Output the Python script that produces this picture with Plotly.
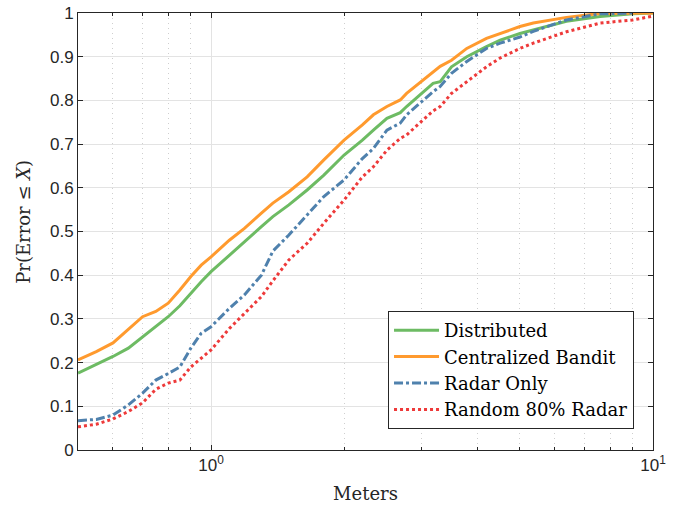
import plotly.graph_objects as go

meters = [0.5, 0.55, 0.6, 0.65, 0.7, 0.75, 0.8, 0.85, 0.9, 0.95, 1.0, 1.1, 1.19, 1.3, 1.38,
          1.5, 1.65, 1.8, 2.0, 2.2, 2.33, 2.5, 2.68, 2.77, 3.18, 3.3, 3.5, 3.79, 4.2, 4.51,
          5.0, 5.36, 6.37, 7.59, 9.0, 10.0]

distributed = [0.176, 0.195, 0.214, 0.233, 0.259, 0.282, 0.305, 0.330, 0.359, 0.385, 0.408,
               0.446, 0.477, 0.511, 0.534, 0.561, 0.595, 0.629, 0.675, 0.709, 0.732, 0.759,
               0.772, 0.786, 0.839, 0.843, 0.877, 0.900, 0.923, 0.938, 0.953, 0.961, 0.981,
               0.992, 0.998, 1.0]

centralized = [0.206, 0.225, 0.245, 0.275, 0.305, 0.317, 0.336, 0.366, 0.397, 0.423, 0.442,
               0.480, 0.507, 0.542, 0.565, 0.591, 0.625, 0.664, 0.709, 0.744, 0.767, 0.786,
               0.801, 0.816, 0.866, 0.878, 0.892, 0.919, 0.942, 0.953, 0.969, 0.977, 0.990,
               0.999, 1.0, 1.0]

radar_only = [0.067, 0.070, 0.080, 0.103, 0.130, 0.160, 0.175, 0.190, 0.233, 0.267, 0.282,
              0.324, 0.355, 0.400, 0.455, 0.492, 0.538, 0.580, 0.618, 0.667, 0.690, 0.732,
              0.748, 0.767, 0.820, 0.832, 0.862, 0.889, 0.919, 0.931, 0.945, 0.958, 0.984,
              0.998, 1.0, None]

random80 = [0.053, 0.059, 0.071, 0.088, 0.108, 0.139, 0.153, 0.160, 0.190, 0.210, 0.229,
            0.278, 0.313, 0.351, 0.387, 0.435, 0.473, 0.519, 0.572, 0.625, 0.648, 0.686,
            0.713, 0.721, 0.776, 0.786, 0.816, 0.843, 0.877, 0.897, 0.919, 0.931, 0.957,
            0.977, 0.984, 0.993]

series_names = ["Distributed", "Centralized Bandit", "Radar Only", "Random 80% Radar"]
series_values = [distributed, centralized, radar_only, random80]
colors = ["#6dbb63", "#ff9a2e", "#4f81ad", "#ee3a3a"]
dashes = ["solid", "solid", "dashdot", "dot"]

y_ticks = [0, 0.1, 0.2, 0.3, 0.4, 0.5, 0.6, 0.7, 0.8, 0.9, 1]
y_ticktext = ["0", "0.1", "0.2", "0.3", "0.4", "0.5", "0.6", "0.7", "0.8", "0.9", "1"]
x_major = [1, 10]
x_major_text = ["10<sup>0</sup>", "10<sup>1</sup>"]
x_minor = [0.5, 0.6, 0.7, 0.8, 0.9, 2, 3, 4, 5, 6, 7, 8, 9]

SERIF = "DejaVu Serif"
SANS = "Liberation Sans"

fig = go.Figure()
for name, vals, c, d in zip(series_names, series_values, colors, dashes):
    fig.add_trace(go.Scatter(x=meters, y=vals, mode="lines", name=name,
                             line=dict(color=c, width=3, dash=d, shape="linear")))

axis_common = dict(showline=True, linecolor="#262626", linewidth=1, mirror="ticks",
                   ticks="inside", ticklen=5, tickcolor="#262626",
                   tickfont=dict(family=SANS, size=17, color="#262626"),
                   zeroline=False, automargin=False)

fig.update_layout(
    width=678, height=505,
    margin=dict(l=78, r=25, t=13, b=55, autoexpand=False),
    paper_bgcolor="white", plot_bgcolor="white",
    font=dict(family=SERIF),
    showlegend=True,
    legend=dict(x=0.967, y=0.048, xanchor="right", yanchor="bottom",
                bgcolor="white", bordercolor="#262626", borderwidth=1,
                font=dict(family=SERIF, size=18, color="#000000"),
                tracegroupgap=0, itemwidth=45),
    xaxis=dict(type="log", range=[-0.30103, 1], tickmode="array", tickvals=x_major,
               ticktext=x_major_text, showgrid=True, gridcolor="#e3e3e3", gridwidth=1,
               minor=dict(tickmode="array", tickvals=x_minor, ticks="inside", ticklen=3,
                          tickcolor="#262626", showgrid=True, gridcolor="#cfcfcf",
                          griddash="1px,4px", gridwidth=1),
               title=dict(text="Meters", font=dict(family=SERIF, size=18, color="#262626"),
                          standoff=12),
               **axis_common),
    yaxis=dict(range=[0, 1], tickmode="array", tickvals=y_ticks, ticktext=y_ticktext,
               showgrid=True, gridcolor="#e3e3e3", gridwidth=1,
               **axis_common),
    annotations=[dict(text="Pr(Error ≤ <i>X</i>)", xref="paper", yref="paper",
                      x=-0.094, y=0.522, xanchor="center", yanchor="middle",
                      textangle=-90, showarrow=False,
                      font=dict(family=SERIF, size=18, color="#262626"))],
)

fig.write_html("out.html", config={"displayModeBar": False},
               post_script="document.body.style.margin='0';document.body.style.overflow='hidden';")
